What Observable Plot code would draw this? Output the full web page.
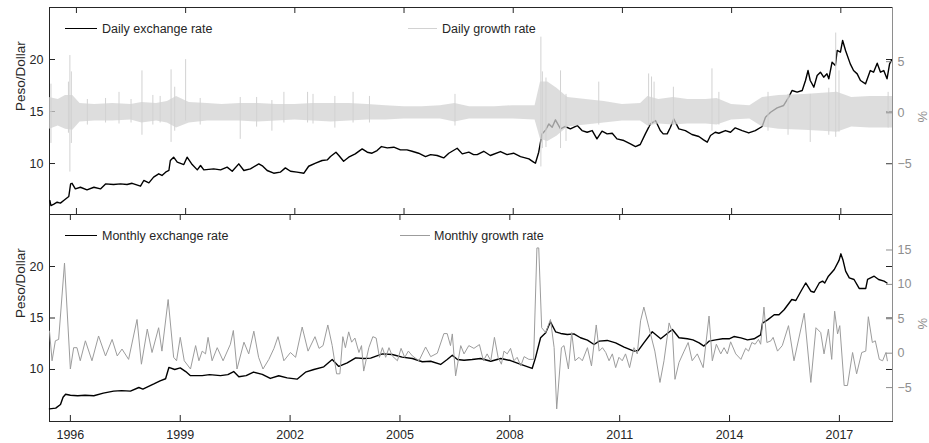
<!DOCTYPE html>
<html><head><meta charset="utf-8">
<script src="https://cdn.jsdelivr.net/npm/d3@7"></script>
<script src="https://cdn.jsdelivr.net/npm/@observablehq/plot@0.6"></script>
<style>
html,body{margin:0;padding:0;background:#fff;overflow:hidden;}
#chart{position:relative;width:929px;height:443px;}
#chart svg{position:absolute;left:0;top:0;}
.lg-line{position:absolute;height:0;}
.lg-text{position:absolute;height:16px;line-height:16px;font-size:12.5px;color:#262626;white-space:nowrap;font-family:'Liberation Sans',Arial,Helvetica,sans-serif;}
</style></head><body><div id="chart"></div><script>
// ---------- data (decimal years) ----------
const yearTicks = [1996, 1999, 2002, 2005, 2008, 2011, 2014, 2017];
const rateTicks = [10, 15, 20];
const dailyPctTicks = [-5, 0, 5];
const monthlyPctTicks = [-5, 0, 5, 10, 15];

const dailyYear = [
 1995.27,1995.30,1995.38,1995.47,1995.56,1995.65,1995.79,1995.84,1995.88,1995.97,
 1996.11,1996.29,1996.48,1996.66,1996.80,1997.02,1997.21,1997.39,1997.53,1997.76,
 1997.85,1997.99,1998.12,1998.26,1998.35,1998.45,1998.54,1998.58,1998.67,1998.77,
 1998.95,1999.04,1999.18,1999.32,1999.41,1999.50,1999.77,1999.96,2000.14,2000.28,
 2000.46,2000.60,2000.78,2001.01,2001.12,2001.24,2001.42,2001.60,2001.74,2001.88,
 2002.06,2002.25,2002.38,2002.57,2002.75,2002.89,2002.98,2003.13,2003.21,2003.34,
 2003.48,2003.66,2003.85,2003.99,2004.12,2004.26,2004.38,2004.54,2004.72,2004.90,
 2005.08,2005.22,2005.40,2005.59,2005.73,2005.91,2006.09,2006.23,2006.46,2006.60,
 2006.78,2006.91,2007.01,2007.19,2007.37,2007.65,2007.83,2008.01,2008.20,2008.43,
 2008.56,2008.61,2008.70,2008.79,2008.88,2008.98,2009.07,2009.16,2009.30,2009.43,
 2009.57,2009.76,2009.89,2010.03,2010.17,2010.30,2010.44,2010.58,2010.72,2010.85,
 2011.04,2011.22,2011.36,2011.49,2011.63,2011.77,2011.91,2012.04,2012.12,2012.23,
 2012.32,2012.41,2012.55,2012.73,2012.91,2013.10,2013.23,2013.33,2013.42,2013.55,
 2013.65,2013.83,2013.97,2014.10,2014.29,2014.47,2014.65,2014.84,2014.93,2015.07,
 2015.25,2015.43,2015.57,2015.66,2015.80,2015.94,2016.03,2016.10,2016.16,2016.26,
 2016.35,2016.44,2016.53,2016.62,2016.67,2016.76,2016.85,2016.90,2016.99,2017.05,
 2017.13,2017.26,2017.35,2017.45,2017.54,2017.68,2017.81,2017.90,2018.00,2018.09,
 2018.18,2018.27,2018.34,2018.40];
const dailyRate = [
 6.44,5.96,6.10,6.28,6.19,6.44,6.83,8.04,8.10,7.56,
 7.72,7.47,7.72,7.56,8.04,7.98,8.04,7.98,8.10,7.82,
 8.37,8.14,8.69,9.01,8.85,9.17,9.33,10.29,10.61,10.13,
 9.90,10.61,9.90,9.39,9.81,9.39,9.49,9.39,9.65,9.26,
 9.97,9.33,9.49,9.97,9.75,9.33,9.07,9.17,9.58,9.26,
 9.17,9.07,9.74,10.03,10.29,10.35,10.67,11.09,10.77,10.22,
 10.61,10.93,11.41,11.09,10.99,11.25,11.63,11.50,11.57,11.31,
 11.31,11.18,10.99,10.67,10.86,10.77,10.54,10.99,11.47,10.93,
 11.09,10.86,10.86,11.18,10.77,11.15,10.86,10.99,10.67,10.45,
 10.13,10.03,11.09,12.85,13.17,13.81,13.49,14.20,13.33,13.56,
 13.33,13.65,13.17,13.01,13.17,12.37,13.11,12.85,12.91,12.37,
 12.21,11.89,11.63,11.83,12.85,13.81,14.13,13.17,12.85,12.85,
 13.49,14.29,13.33,13.17,12.79,12.60,12.28,12.05,12.69,13.01,
 12.91,13.17,13.01,13.43,13.17,12.94,13.17,13.56,14.45,14.93,
 15.35,15.58,16.38,17.02,16.86,17.02,17.98,18.94,17.98,17.34,
 18.46,18.78,18.30,18.62,18.14,19.74,19.42,20.87,20.71,21.83,
 20.87,19.58,18.94,18.62,17.98,17.66,18.94,18.78,19.65,18.78,
 18.94,18.14,19.58,19.97];

// daily growth rate: envelope of the dense band and the taller single spikes (%)
const bandYear = [1995.26,1995.5,1995.7,1995.9,1996.1,1996.5,1997.0,1997.5,1997.8,1998.2,
 1998.5,1998.75,1999.1,1999.6,2000.0,2000.5,2001.0,2001.5,2002.0,2002.5,
 2003.0,2003.5,2004.0,2004.5,2005.0,2005.5,2006.0,2006.4,2006.8,2007.5,
 2008.0,2008.6,2008.75,2008.95,2009.2,2009.5,2010.0,2010.5,2011.0,2011.5,
 2011.7,2012.0,2012.4,2012.8,2013.3,2013.6,2014.0,2014.5,2014.85,2015.3,
 2016.0,2016.5,2016.9,2017.3,2017.8,2018.42];
const bandLow = [-1.6,-1.3,-1.6,-1.7,-0.9,-0.8,-0.8,-0.7,-1.0,-0.8,
 -1.0,-1.5,-1.0,-0.8,-0.8,-0.8,-0.9,-0.8,-0.7,-0.8,
 -0.9,-0.8,-0.7,-0.7,-0.6,-0.6,-0.6,-0.9,-0.6,-0.6,
 -0.6,-0.7,-2.6,-2.8,-2.3,-1.4,-1.2,-1.0,-0.8,-0.8,
 -1.3,-1.1,-1.2,-1.1,-1.1,-1.2,-0.7,-0.6,-1.4,-1.6,
 -1.7,-1.8,-1.9,-1.4,-1.5,-1.5];
const bandHigh = [1.5,1.3,1.7,1.7,0.9,0.8,0.9,0.8,1.0,0.9,
 1.1,1.6,1.0,0.9,0.8,0.9,0.9,0.8,0.8,0.9,
 0.9,0.9,0.8,0.7,0.6,0.6,0.7,0.9,0.6,0.6,
 0.7,0.7,3.0,3.0,2.4,1.5,1.3,1.1,0.8,0.9,
 1.6,1.3,1.5,1.3,1.3,1.4,0.8,0.7,1.5,1.7,
 1.8,1.9,2.0,1.5,1.6,1.6];
const spikeYear = [1995.30,1995.78,1995.82,1995.86,1996.30,1996.80,1997.17,1997.50,1997.80,1998.10,
 1998.30,1998.60,1998.70,1999.00,1999.40,2000.50,2000.95,2001.37,2001.70,2002.35,
 2002.50,2003.10,2003.60,2004.05,2006.40,2008.76,2008.80,2008.90,2009.30,2009.45,
 2010.35,2011.72,2011.80,2011.87,2012.40,2013.46,2013.65,2015.00,2015.55,2016.16,
 2016.67,2016.86,2016.95,2018.30];
const spikeLow = [-3.0,-2.0,-5.8,-3.0,-1.2,-1.0,-1.1,-1.0,-2.2,-1.2,
 -1.0,-2.9,-1.8,-0.8,-1.2,-2.6,-1.4,-1.8,-1.0,-1.0,
 -1.1,-1.5,-1.0,-1.0,-1.3,-5.3,-3.5,-3.4,-3.5,-2.8,
 -1.2,-1.4,-1.2,-1.0,-1.2,-1.8,-1.2,-1.8,-2.2,-2.9,
 -2.2,-2.4,-1.9,-1.5];
const spikeHigh = [2.8,3.0,5.6,4.0,1.3,1.4,2.0,1.3,4.1,1.7,
 1.6,4.2,2.5,5.2,1.4,1.5,1.5,1.2,2.0,2.0,
 1.8,1.6,2.0,1.6,1.8,7.4,4.0,3.4,4.1,1.8,
 3.0,3.8,3.5,3.0,2.5,4.3,2.0,2.0,1.8,1.8,
 2.4,7.8,4.1,2.0];

const monthlyYear = [
 1995.43,1995.60,1995.73,1995.80,1995.87,1996.00,1996.20,1996.40,1996.64,1996.90,
 1997.18,1997.40,1997.64,1997.87,1997.98,1998.28,1998.45,1998.60,1998.69,1998.85,
 1999.00,1999.15,1999.28,1999.60,1999.80,2000.10,2000.30,2000.46,2000.60,2000.80,
 2001.00,2001.24,2001.46,2001.69,2001.92,2002.19,2002.42,2002.65,2002.92,2003.15,
 2003.33,2003.56,2003.79,2004.01,2004.20,2004.52,2004.79,2005.06,2005.34,2005.61,
 2005.84,2006.11,2006.29,2006.43,2006.57,2006.75,2006.97,2007.20,2007.48,2007.75,
 2008.02,2008.30,2008.61,2008.70,2008.84,2008.98,2009.11,2009.25,2009.39,2009.57,
 2009.75,2009.93,2010.12,2010.30,2010.44,2010.66,2010.89,2011.12,2011.39,2011.51,
 2011.66,2011.89,2012.12,2012.30,2012.44,2012.62,2012.85,2013.00,2013.17,2013.30,
 2013.44,2013.62,2013.81,2013.99,2014.12,2014.31,2014.49,2014.67,2014.85,2014.90,
 2015.04,2015.22,2015.35,2015.49,2015.70,2015.81,2015.95,2016.08,2016.22,2016.31,
 2016.45,2016.54,2016.60,2016.70,2016.86,2016.99,2017.04,2017.10,2017.17,2017.27,
 2017.40,2017.54,2017.72,2017.77,2017.95,2018.07,2018.22,2018.30];
const monthlyRate = [
 6.18,6.25,6.60,7.30,7.60,7.50,7.45,7.50,7.45,7.70,
 7.90,7.95,7.90,8.25,8.10,8.60,8.90,9.10,10.20,10.00,
 10.15,9.80,9.40,9.40,9.50,9.40,9.50,9.80,9.30,9.40,
 9.75,9.52,9.13,9.39,9.19,9.06,9.74,10.00,10.26,10.97,
 10.30,10.65,11.13,11.07,11.10,11.52,11.46,11.20,11.07,10.75,
 10.80,10.49,10.97,11.39,10.97,10.90,10.97,11.07,10.80,11.07,
 10.87,10.49,10.10,11.13,13.08,13.56,14.63,13.66,13.50,13.40,
 13.46,13.08,12.85,12.43,12.75,12.82,12.59,12.17,11.78,11.85,
 12.59,13.66,12.98,13.50,13.88,13.08,12.98,12.88,12.59,12.27,
 12.75,12.88,12.98,12.98,13.20,13.07,12.88,12.98,13.37,14.50,
 14.82,15.31,15.31,15.80,16.80,16.70,17.60,18.40,17.60,17.50,
 18.40,18.58,18.40,19.06,19.71,20.60,21.23,20.60,19.55,18.90,
 18.74,17.87,17.87,18.74,19.06,18.74,18.58,18.40];

const mGrowthYear = [
 1995.43,1995.50,1995.59,1995.68,1995.84,1996.00,1996.09,1996.18,1996.27,1996.41,
 1996.59,1996.77,1996.96,1997.14,1997.28,1997.41,1997.59,1997.82,1997.94,1998.10,
 1998.23,1998.41,1998.50,1998.67,1998.82,1998.90,1999.00,1999.11,1999.28,1999.42,
 1999.51,1999.60,1999.69,1999.76,1999.87,2000.01,2000.17,2000.37,2000.45,2000.55,
 2000.74,2000.87,2001.01,2001.14,2001.26,2001.42,2001.56,2001.67,2001.83,2002.01,
 2002.15,2002.33,2002.49,2002.68,2002.79,2002.90,2003.03,2003.15,2003.27,2003.36,
 2003.44,2003.51,2003.60,2003.68,2003.77,2003.88,2003.95,2004.01,2004.15,2004.26,
 2004.35,2004.44,2004.52,2004.61,2004.70,2004.79,2004.93,2005.03,2005.13,2005.23,
 2005.34,2005.52,2005.70,2005.84,2006.02,2006.20,2006.29,2006.38,2006.43,2006.52,
 2006.66,2006.75,2006.88,2007.02,2007.17,2007.28,2007.38,2007.48,2007.58,2007.68,
 2007.77,2007.84,2007.93,2008.02,2008.11,2008.20,2008.30,2008.39,2008.52,2008.65,
 2008.74,2008.79,2008.87,2008.98,2009.11,2009.21,2009.28,2009.41,2009.48,2009.60,
 2009.69,2009.78,2009.89,2009.98,2010.12,2010.23,2010.36,2010.44,2010.53,2010.62,
 2010.71,2010.80,2010.89,2010.98,2011.07,2011.16,2011.27,2011.39,2011.48,2011.57,
 2011.66,2011.80,2011.96,2012.10,2012.21,2012.35,2012.44,2012.51,2012.62,2012.76,
 2012.87,2012.98,2013.12,2013.28,2013.44,2013.53,2013.64,2013.76,2013.85,2013.94,
 2014.03,2014.17,2014.31,2014.44,2014.52,2014.61,2014.70,2014.79,2014.85,2014.94,
 2015.02,2015.13,2015.19,2015.31,2015.44,2015.61,2015.76,2016.04,2016.22,2016.36,
 2016.49,2016.58,2016.70,2016.79,2016.87,2016.95,2017.01,2017.13,2017.22,2017.36,
 2017.47,2017.61,2017.72,2017.79,2017.90,2017.98,2018.09,2018.18,2018.27,2018.31];
const mGrowthRate = [
 3.2,-1.1,1.8,2.0,13.1,-2.3,0.8,0.8,-1.1,1.8,
 -1.1,2.5,-0.4,2.0,-0.4,0.6,-0.9,4.9,-1.6,3.5,
 0.1,3.7,0.3,7.8,-0.6,-1.1,2.3,-1.1,-2.3,1.1,
 -1.1,0.3,-0.1,2.3,-1.1,0.8,-1.1,1.3,3.3,-2.3,
 1.6,-0.1,3.2,-0.6,-2.3,-0.9,0.7,2.4,-1.1,0.1,
 -0.6,3.8,0.3,2.4,0.7,1.1,4.1,1.1,-3.0,-3.0,
 2.4,0.8,3.1,1.6,2.2,0.1,1.1,-2.6,0.8,2.4,
 2.2,-0.6,0.8,-0.6,0.8,-0.4,-1.1,0.7,-0.6,0.3,
 -0.4,-1.1,0.9,-0.5,0.0,2.85,2.85,1.1,2.8,-3.3,
 1.1,-0.1,1.1,0.7,1.25,-1.1,-0.1,-1.1,2.3,-0.6,
 -1.6,0.3,-0.1,0.7,-1.1,-0.6,-1.85,-0.5,-0.9,-0.9,
 15.3,15.3,3.7,3.0,4.9,0.8,-8.1,0.8,1.1,-2.3,
 3.0,-1.1,-0.6,-1.1,0.8,-1.85,4.1,0.3,0.8,0.1,
 -1.1,-0.1,-2.1,-0.6,-1.1,-0.1,-2.1,0.8,-0.1,4.7,
 6.7,3.7,0.3,-4.25,-1.1,4.4,3.0,-3.8,-1.35,0.3,
 1.55,-1.1,-0.1,-2.1,5.4,-1.1,1.3,-0.1,0.8,-0.1,
 1.65,-0.1,-0.9,0.7,0.3,1.55,1.3,2.0,1.3,6.7,
 1.55,1.8,2.3,0.3,1.1,4.0,-1.1,5.8,-4.25,3.7,
 3.0,-0.1,3.5,-0.9,6.1,2.8,4.0,-4.7,-4.7,0.1,
 -3.0,0.1,0.3,5.3,1.55,1.8,-0.9,-1.1,0.1,-1.1];

// ---------- layout & style ----------
const W = 929, H = 443;
const FONT = "'Liberation Sans', Arial, Helvetica, sans-serif";
const INK = "#262626", AX2 = "#8e8e8e";
const DAILY_GRAY = "#d2d2d2", MONTHLY_GRAY = "#9c9c9c";
const ML = 49, MR = 37, PW = W - ML - MR, PH = 207;
const TICK = 6;

const topPanel = {mt: 7, mb: H - 214, x: [1995.26, 2018.42], y: [5.1, 25.0], y2: [-9.95, 10.3], pct: dailyPctTicks};
const botPanel = {mt: 214, mb: H - 421, x: [1995.43, 2018.45], y: [4.95, 25.05], y2: [-9.93, 20.16], pct: monthlyPctTicks};

const pts = (xs, ys) => xs.map((x, i) => ({x, y: ys[i]}));
const rng = (xs, lo, hi) => xs.map((x, i) => ({x, lo: lo[i], hi: hi[i]}));

const dailyData = pts(dailyYear, dailyRate);
const bandData = rng(bandYear, bandLow, bandHigh);
const spikeData = rng(spikeYear, spikeLow, spikeHigh);
const monthlyData = pts(monthlyYear, monthlyRate);
const mGrowthData = pts(mGrowthYear, mGrowthRate);

const svgStyle = `background:none;overflow:visible;font-family:${FONT};font-size:12.5px;`;

function leftPlot(p, lineData, showX) {
  const marks = [
    Plot.frame({stroke: INK}),
    Plot.tickX(yearTicks, {x: d => d, stroke: INK, insetTop: PH - TICK}),
    Plot.tickX(yearTicks, {x: d => d, stroke: INK, insetBottom: PH - TICK}),
    Plot.tickY(rateTicks, {y: d => d, stroke: INK, insetRight: PW - TICK}),
    Plot.tickY(rateTicks, {y: d => d, stroke: INK, insetLeft: PW - TICK}),
    Plot.axisY(rateTicks, {anchor: "left", tickSize: 0, tickPadding: 6, label: null, color: INK}),
    Plot.text(["Peso/Dollar"], {text: d => d, frameAnchor: "left", dx: -29, rotate: -90, fontSize: 13.5, fill: INK}),
    Plot.line(lineData, {x: "x", y: "y", stroke: "#000", strokeWidth: 1.4})
  ];
  if (showX) marks.push(Plot.axisX(yearTicks, {anchor: "bottom", tickSize: 0, tickPadding: 9, tickFormat: d => String(d), label: null, color: INK}));
  return Plot.plot({
    width: W, height: H, marginLeft: ML, marginRight: MR, marginTop: p.mt, marginBottom: p.mb,
    x: {domain: p.x, axis: null}, y: {domain: p.y, axis: null},
    style: svgStyle, marks
  });
}

function rightPlot(p, growthMarks) {
  return Plot.plot({
    width: W, height: H, marginLeft: ML, marginRight: MR, marginTop: p.mt, marginBottom: p.mb,
    x: {domain: p.x, axis: null}, y: {domain: p.y2, axis: null},
    style: svgStyle,
    marks: [
      ...growthMarks,
      Plot.ruleX([p.x[1]], {stroke: AX2}),
      Plot.tickY(p.pct, {y: d => d, stroke: AX2, insetLeft: PW - TICK}),
      Plot.axisY(p.pct, {anchor: "right", tickSize: 0, tickPadding: 5, label: null, color: AX2}),
      Plot.text(["%"], {text: d => d, frameAnchor: "right", dx: 30, rotate: -90, fontSize: 13, fill: AX2})
    ]
  });
}

const chart = document.getElementById("chart");
chart.append(leftPlot(topPanel, dailyData, false));
chart.append(rightPlot(topPanel, [
  Plot.areaY(bandData, {x: "x", y1: "lo", y2: "hi", fill: DAILY_GRAY, fillOpacity: 0.75}),
  Plot.ruleX(spikeData, {x: "x", y1: "lo", y2: "hi", stroke: DAILY_GRAY, strokeWidth: 1})
]));
chart.append(leftPlot(botPanel, monthlyData, true));
chart.append(rightPlot(botPanel, [
  Plot.line(mGrowthData, {x: "x", y: "y", stroke: MONTHLY_GRAY, strokeWidth: 1})
]));

// ---------- in-plot legends ----------
function legend(x1, x2, y, color, label, tx) {
  const l = document.createElement("div");
  l.className = "lg-line";
  l.style.cssText = `left:${x1}px;top:${y - 0.7}px;width:${x2 - x1}px;border-top:1.4px solid ${color};`;
  const t = document.createElement("div");
  t.className = "lg-text";
  t.style.left = tx + "px"; t.style.top = (y - 8) + "px";
  t.textContent = label;
  chart.append(l, t);
}
legend(65, 97, 29, "#000", "Daily exchange rate", 102);
legend(408, 437, 29, DAILY_GRAY, "Daily growth rate", 442);
legend(65, 97, 236, "#000", "Monthly exchange rate", 102);
legend(400, 430, 236, MONTHLY_GRAY, "Monthly growth rate", 434);
</script></body></html>
